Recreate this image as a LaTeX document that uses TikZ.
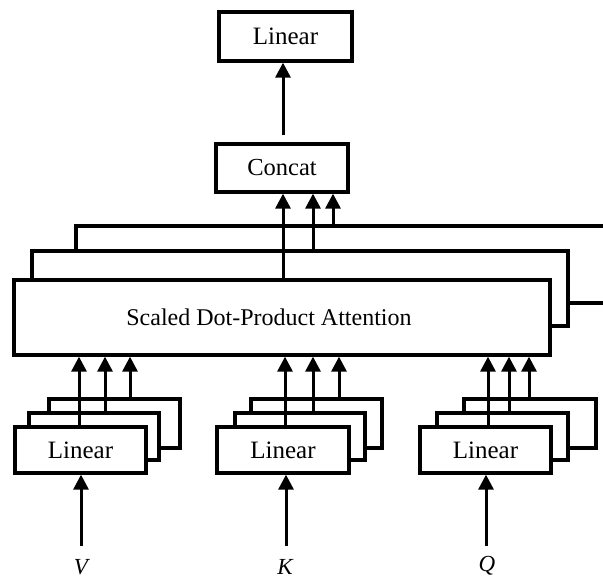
\documentclass[tikz,border=0pt]{standalone}
\usepackage{fontspec}
\setmainfont{Liberation Serif}
\usetikzlibrary{arrows.meta}
\begin{document}
\begin{tikzpicture}[x=1pt,y=-1pt,
  box/.style={draw=black,line width=3.3pt,fill=white,rectangle,inner sep=0pt,font=\fontsize{25}{29}\selectfont},
  arr/.style={line width=3pt,-{Triangle[width=15pt,length=15pt]}},
  lbl/.style={font=\fontsize{23}{27}\selectfont\itshape,inner sep=0pt}]
\useasboundingbox (0,0) rectangle (603,579);
\clip (0,0) rectangle (603,579);
% helper x coordinates
\foreach \n/\x in {a1/283,a2/313,a3/333,v1/79,v2/105,v3/130,k1/285,k2/313,k3/339,q1/488,q2/509,q3/529,top/283,vin/81,kin/286,qin/486}{
  \coordinate (x\n) at (\x,0);
}
% top Linear and Concat
\node[box,minimum width=133pt,minimum height=49pt] (lintop) at (285.5,36.5) {Linear};
\node[box,minimum width=132pt,minimum height=48pt,font=\fontsize{24.5}{28}\selectfont] (concat) at (282,168) {Concat};
% attention stack
\node[box,minimum width=564pt,minimum height=77pt] (att3) at (358,264.5) {};
\node[box,minimum width=536pt,minimum height=75pt] (att2) at (300,288.5) {};
\node[box,minimum width=536pt,minimum height=75pt,font=\fontsize{24}{28}\selectfont] (att1) at (282,317.5) {\hspace*{-26pt}Scaled Dot-Product Attention};
% V linear stack
\node[box,minimum width=131pt,minimum height=49pt] (v3) at (114.5,423.5) {};
\node[box,minimum width=130pt,minimum height=47pt] (v2) at (94,436.5) {};
\node[box,minimum width=131pt,minimum height=46pt] (v1) at (80.5,450) {Linear};
% K linear stack
\node[box,minimum width=131pt,minimum height=49pt] (k3) at (316.5,423.5) {};
\node[box,minimum width=130pt,minimum height=47pt] (k2) at (300,436.5) {};
\node[box,minimum width=132pt,minimum height=46pt] (k1) at (283,450) {Linear};
% Q linear stack
\node[box,minimum width=132pt,minimum height=49pt] (q3) at (530,423.5) {};
\node[box,minimum width=131pt,minimum height=47pt] (q2) at (502.5,436.5) {};
\node[box,minimum width=131pt,minimum height=46pt] (q1) at (485.5,450) {Linear};
% input labels
\node[lbl] (V) at (81,567) {V};
\node[lbl] (K) at (285,567) {K};
\node[lbl] (Q) at (487,566) {Q};
% input points
\coordinate (vstart) at (81,546);
\coordinate (kstart) at (286,546);
\coordinate (qstart) at (486,546);
% arrows: inputs
\draw[arr] (vstart) -- (v1.south -| vstart);
\draw[arr] (kstart) -- (k1.south -| kstart);
\draw[arr] (qstart) -- (q1.south -| qstart);
% arrows: linear stacks to attention
\draw[arr] (v1.north -| xv1) -- (att1.south -| xv1);
\draw[arr] (v2.north -| xv2) -- (att1.south -| xv2);
\draw[arr] (v3.north -| xv3) -- (att1.south -| xv3);
\draw[arr] (k1.north -| xk1) -- (att1.south -| xk1);
\draw[arr] (k2.north -| xk2) -- (att1.south -| xk2);
\draw[arr] (k3.north -| xk3) -- (att1.south -| xk3);
\draw[arr] (q1.north -| xq1) -- (att1.south -| xq1);
\draw[arr] (q2.north -| xq2) -- (att1.south -| xq2);
\draw[arr] ([yshift=-3pt]q3.north -| xq3) -- (att1.south -| xq3);
% arrows: attention to concat
\draw[arr] (att1.north -| xa1) -- (concat.south -| xa1);
\draw[arr] (att2.north -| xa2) -- (concat.south -| xa2);
\draw[arr] (att3.north -| xa3) -- (concat.south -| xa3);
% concat to linear
\draw[arr,shorten <=7pt] (concat.north -| xtop) -- (lintop.south -| xtop);
\end{tikzpicture}
\end{document}
